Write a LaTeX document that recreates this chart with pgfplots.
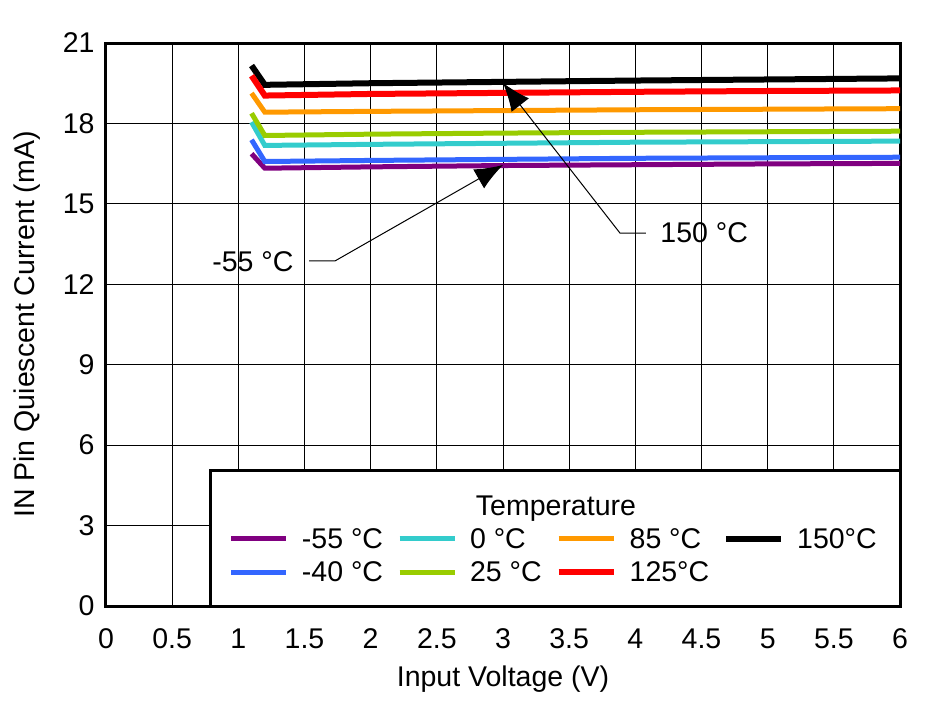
\documentclass[border=0pt]{standalone}
\usepackage{pgfplots}
\pgfplotsset{compat=1.18}
\usepackage{fontspec}
\setmainfont{Liberation Sans}
\usetikzlibrary{arrows.meta}
\definecolor{cPurple}{HTML}{800080}
\definecolor{cBlue}{HTML}{3366FF}
\definecolor{cCyan}{HTML}{33CCCC}
\definecolor{cGreen}{HTML}{99CC00}
\definecolor{cOrange}{HTML}{FF9900}
\definecolor{cRed}{HTML}{FF0000}
\begin{document}
\begin{tikzpicture}[font=\fontsize{28.5}{34}\selectfont]
\begin{axis}[
  width=794pt, height=563pt, scale only axis,
  xmin=0, xmax=6, ymin=0, ymax=21,
  xtick={0,0.5,...,6}, ytick={0,3,...,21},
  xticklabels={0,0.5,1,1.5,2,2.5,3,3.5,4,4.5,5,5.5,6},
  /pgf/number format/assume math mode=true,
  xticklabel style={yshift=-19pt},
  yticklabel style={xshift=-8pt},
  grid=major,
  major grid style={black, line width=1pt},
  major tick length=0pt,
  axis line style={line width=3pt},
  xlabel={Input Voltage (V)},
  ylabel={IN Pin Quiescent Current (mA)},
  xlabel style={at={(axis description cs:0.5,-0.129)}, anchor=center},
  ylabel style={at={(axis description cs:-0.0995,0.5)}, anchor=center},
  clip=false,
  legend columns=4,
  legend style={draw=none, fill=none, at={(axis cs:0.905,3.06)}, anchor=north west,
    font=\fontsize{28.5}{34}\selectfont,
    /tikz/every even column/.append style={column sep=12pt},
    /tikz/every odd column/.append style={column sep=11pt},
    row sep=8pt},
  legend cell align=left,
  legend image code/.code={\draw[#1] (0pt,0pt) -- (55pt,0pt);},
]
\path (rel axis cs:-0.1335,-0.1687) rectangle (rel axis cs:1.0403,1.0764);
\draw[fill=white, line width=3pt] (axis cs:0.79,0) rectangle (axis cs:6,5.05);
\node at (axis cs:3.40,3.62) {Temperature};

\addplot[cPurple, line width=5pt] coordinates {(1.1,16.87)(1.2,16.33)(2,16.38)(3,16.43)(4,16.46)(5,16.49)(6,16.51)};
\addlegendentry{-55 °C}
\addplot[cCyan, line width=5pt] coordinates {(1.1,18.05)(1.2,17.18)(2,17.22)(3,17.26)(4,17.3)(5,17.32)(6,17.34)};
\addlegendentry{0 °C}
\addplot[cOrange, line width=5pt] coordinates {(1.1,19.13)(1.2,18.42)(2,18.45)(3,18.48)(4,18.51)(5,18.53)(6,18.55)};
\addlegendentry{85 °C}
\addplot[black, line width=6pt] coordinates {(1.1,20.16)(1.2,19.44)(2,19.5)(3,19.55)(4,19.6)(5,19.64)(6,19.68)};
\addlegendentry{150°C}
\addplot[cBlue, line width=5pt] coordinates {(1.1,17.39)(1.2,16.58)(2,16.62)(3,16.66)(4,16.7)(5,16.72)(6,16.74)};
\addlegendentry{-40 °C}
\addplot[cGreen, line width=5pt] coordinates {(1.1,18.38)(1.2,17.55)(2,17.6)(3,17.64)(4,17.67)(5,17.69)(6,17.71)};
\addlegendentry{25 °C}
\addplot[cRed, line width=6pt] coordinates {(1.1,19.78)(1.2,19.04)(2,19.1)(3,19.14)(4,19.18)(5,19.21)(6,19.23)};
\addlegendentry{125°C}

\draw[line width=1pt, -{Latex[length=28pt,width=22pt]}] (axis cs:1.534,12.87) -- (axis cs:1.73,12.87) -- (axis cs:3.0,16.45);
\draw[line width=1pt, -{Latex[length=28pt,width=22pt]}] (axis cs:4.08,13.91) -- (axis cs:3.884,13.91) -- (axis cs:3.0,19.51);
\node at (axis cs:1.11,12.85) {-55 °C};
\node at (axis cs:4.52,13.91) {150 °C};
\end{axis}
\end{tikzpicture}
\end{document}
